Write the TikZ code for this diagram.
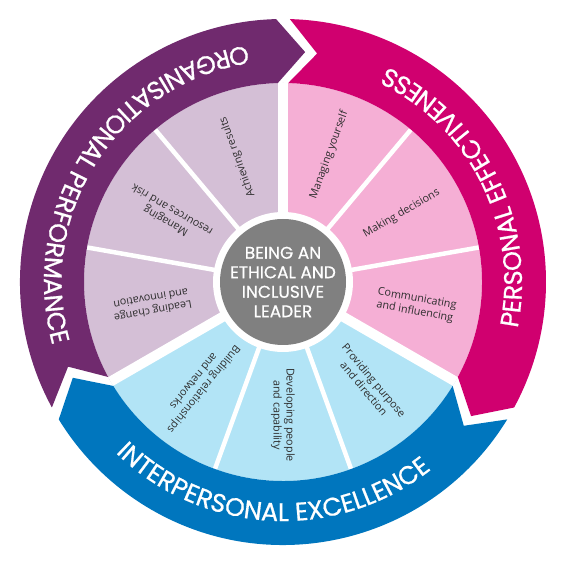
\documentclass[tikz,border=0pt]{standalone}
\usepackage{fontspec}
\setmainfont{Open Sans}
\newfontfamily\ringfont{Poppins}[FakeBold=0.7]
\newfontfamily\corefont{Poppins}[FakeBold=0.6]
\usetikzlibrary{decorations.text}
\definecolor{orgpurple}{RGB}{112,42,110}
\definecolor{permagenta}{RGB}{208,0,111}
\definecolor{intblue}{RGB}{0,118,190}
\definecolor{lightpurple}{RGB}{212,191,214}
\definecolor{lightpink}{RGB}{245,175,213}
\definecolor{lightblue}{RGB}{178,228,246}
\definecolor{centergray}{RGB}{128,128,128}
\definecolor{labelgray}{RGB}{45,45,45}
\begin{document}
\begin{tikzpicture}[x=1pt,y=1pt,
  wedgelabel/.style={font=\fontsize{10.8}{13}\selectfont, text=labelgray, align=center, inner sep=0pt},
  majorsep/.style={white, line width=10pt},
  minorsep/.style={white, line width=4.5pt},
  ringtext/.style={decorate, decoration={text along path, text align=center,
     text={|\ringfont\fontsize{25.5}{25.5}\selectfont\color{white}|#1}}}
]
\useasboundingbox (0,0) rectangle (563,565);
\begin{scope}[shift={(283,283)}]
 % sectors
 \fill[lightpink] (0,0) -- (-30:199) arc[start angle=-30, end angle=90, radius=199] -- cycle;
 \fill[lightblue] (0,0) -- (-150:199) arc[start angle=-150, end angle=-30, radius=199] -- cycle;
 \fill[lightpurple] (0,0) -- (90:199) arc[start angle=90, end angle=210, radius=199] -- cycle;
 % separators
 \foreach \a in {50,10,-70,-110,170,130} \draw[minorsep] (0,0) -- (\a:199);
 \foreach \a in {90,-30,210} \draw[majorsep] (0,0) -- (\a:199);
 % ring segments
 \fill[orgpurple] (208.5:263) arc[start angle=208.5, end angle=91.5, radius=263] -- (84.5:231) -- (91.5:199) arc[start angle=91.5, end angle=208.5, radius=199] -- (201.5:231) -- cycle;
 \fill[permagenta] (88.5:263) arc[start angle=88.5, end angle=-28.5, radius=263] -- (-35.5:231) -- (-28.5:199) arc[start angle=-28.5, end angle=88.5, radius=199] -- (81.5:231) -- cycle;
 \fill[intblue] (-31.5:263) arc[start angle=-31.5, end angle=-148.5, radius=263] -- (-155.5:231) -- (-148.5:199) arc[start angle=-148.5, end angle=-31.5, radius=199] -- (-38.5:231) -- cycle;
 % ring texts
 \path[ringtext=ORGANISATIONAL PERFORMANCE] (87:239) arc[start angle=87, end angle=207, radius=239];
 \path[ringtext=PERSONAL EFFECTIVENESS] (-33.5:239) arc[start angle=-33.5, end angle=86.5, radius=239];
 \path[ringtext=INTERPERSONAL EXCELLENCE] (-153:239) arc[start angle=-153, end angle=-33, radius=239];
 % centre
 \fill[white] (0,0) circle[radius=70];
 \fill[centergray] (0,0) circle[radius=63];
 \node[font=\corefont\fontsize{17}{19.5}\selectfont, text=white, align=center] (core) at (0,0) {BEING AN\\ETHICAL AND\\INCLUSIVE\\LEADER};
 % wedge labels
 \node[wedgelabel, rotate=110] (achieving) at (110:133) {Achieving results};
 \node[wedgelabel, rotate=70] (yourself) at (70:135) {Managing yourself};
 \node[wedgelabel, rotate=30] (decisions) at (30:137) {Making decisions};
 \node[wedgelabel, rotate=-10] (communicating) at (-10:135) {Communicating\\and influencing};
 \node[wedgelabel, rotate=-50] (purpose) at (-50:134) {Providing purpose\\and direction};
 \node[wedgelabel, rotate=-90] (developing) at (-90:133) {Developing people\\and capability};
 \node[wedgelabel, rotate=-129] (building) at (-129:133) {Building relationships\\and networks};
 \node[wedgelabel, rotate=190] (leading) at (190:133) {Leading change\\and innovation};
 \node[wedgelabel, rotate=150] (resources) at (150:132) {Managing\\resources and risk};
\end{scope}
\end{tikzpicture}
\end{document}
